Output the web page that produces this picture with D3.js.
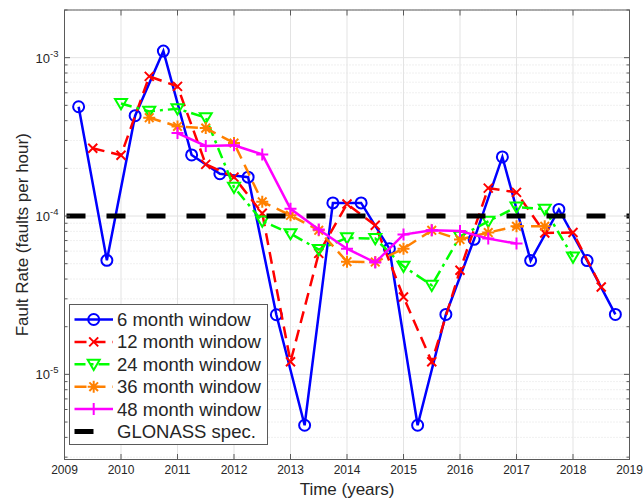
<!DOCTYPE html>
<html>
<head>
<meta charset="utf-8">
<script src="https://cdnjs.cloudflare.com/ajax/libs/d3/7.8.5/d3.min.js"></script>
<style>
  body { margin: 0; background: #fff; }
  text { font-family: "Liberation Sans", Arial, Helvetica, sans-serif; fill: #262626; }
</style>
</head>
<body>
<div id="chart"></div>
<script>
// sample times (years) and fault rates (faults per hour) for each window
const t6 = [2009.25, 2009.75, 2010.25, 2010.75, 2011.25, 2011.75, 2012.25, 2012.75, 2013.25, 2013.75,
            2014.25, 2014.75, 2015.25, 2015.75, 2016.25, 2016.75, 2017.25, 2017.75, 2018.25, 2018.75];
const rate6 = [4.9e-4, 5.25e-5, 4.3e-4, 1.1e-3, 2.43e-4, 1.85e-4, 1.76e-4, 2.38e-5, 4.77e-6, 1.21e-4,
               1.21e-4, 6.22e-5, 4.77e-6, 2.39e-5, 7.13e-5, 2.36e-4, 5.23e-5, 1.10e-4, 5.23e-5, 2.39e-5];

const t12 = [2009.5, 2010, 2010.5, 2011, 2011.5, 2012, 2012.5, 2013, 2013.5, 2014,
             2014.5, 2015, 2015.5, 2016, 2016.5, 2017, 2017.5, 2018, 2018.5];
const rate12 = [2.68e-4, 2.42e-4, 7.62e-4, 6.59e-4, 2.12e-4, 1.76e-4, 1.04e-4, 1.20e-5, 5.81e-5, 1.19e-4,
                8.74e-5, 3.08e-5, 1.20e-5, 4.54e-5, 1.50e-4, 1.41e-4, 7.81e-5, 7.86e-5, 3.56e-5];

const t24 = [2010, 2010.5, 2011, 2011.5, 2012, 2012.5, 2013, 2013.5, 2014,
             2014.5, 2015, 2015.5, 2016, 2016.5, 2017, 2017.5, 2018];
const rate24 = [5.13e-4, 4.58e-4, 4.76e-4, 4.18e-4, 1.52e-4, 9.30e-5, 7.74e-5, 6.14e-5, 7.28e-5,
                7.20e-5, 4.81e-5, 3.65e-5, 7.44e-5, 9.26e-5, 1.14e-4, 1.105e-4, 5.51e-5];

const t36 = [2010.5, 2011, 2011.5, 2012, 2012.5, 2013, 2013.5, 2014,
             2014.5, 2015, 2015.5, 2016, 2016.5, 2017, 2017.5];
const rate36 = [4.18e-4, 3.68e-4, 3.59e-4, 2.89e-4, 1.23e-4, 1.01e-4, 8.12e-5, 5.15e-5,
                5.12e-5, 6.22e-5, 8.12e-5, 7.10e-5, 7.86e-5, 8.61e-5, 8.61e-5];

const t48 = [2011, 2011.5, 2012, 2012.5, 2013, 2013.5, 2014, 2014.5, 2015, 2015.5, 2016, 2016.5, 2017];
const rate48 = [3.34e-4, 2.77e-4, 2.80e-4, 2.45e-4, 1.11e-4, 8.21e-5, 6.22e-5, 5.08e-5,
                7.63e-5, 8.12e-5, 8.04e-5, 7.20e-5, 6.70e-5];

const glonassSpec = 1e-4;

const seriesNames = ["6 month window", "12 month window", "24 month window", "36 month window", "48 month window"];
const specName = "GLONASS spec.";
const yearTicks = [2009, 2010, 2011, 2012, 2013, 2014, 2015, 2016, 2017, 2018, 2019];
const decadeTicks = [1e-5, 1e-4, 1e-3];
const decadeLabels = ["-5", "-4", "-3"];

const w = 644;
const h = 500;
const padL = 64.5, padR = 629.5, padT = 10, padB = 459.5;

let svg = d3.select("#chart").append("svg")
            .attr("width", w)
            .attr("height", h);

let xScale = d3.scaleLinear().domain([2009, 2019]).range([padL, padR]);
let yScale = d3.scaleLog().domain([2.9e-6, 2e-3]).range([padB, padT]);

// minor ticks 2..9 for every decade inside the domain
let minorTicks = yScale.ticks().filter(v => {
    let m = v / Math.pow(10, Math.floor(Math.log10(v) + 1e-9));
    return Math.round(m) !== 1;
});

// grid
let grid = svg.append("g");
grid.selectAll(".ymin").data(minorTicks).enter().append("line")
    .attr("x1", padL).attr("x2", padR)
    .attr("y1", d => yScale(d)).attr("y2", d => yScale(d))
    .attr("stroke", "#d9d9d9").attr("stroke-width", 0.8).attr("stroke-dasharray", "1,2");
grid.selectAll(".ymaj").data(decadeTicks).enter().append("line")
    .attr("x1", padL).attr("x2", padR)
    .attr("y1", d => yScale(d)).attr("y2", d => yScale(d))
    .attr("stroke", "#e3e3e3").attr("stroke-width", 1);
grid.selectAll(".xmaj").data(yearTicks).enter().append("line")
    .attr("x1", d => xScale(d)).attr("x2", d => xScale(d))
    .attr("y1", padT).attr("y2", padB)
    .attr("stroke", "#e3e3e3").attr("stroke-width", 1);

// clip
svg.append("clipPath").attr("id", "plot-area")
   .append("rect")
   .attr("x", padL).attr("y", padT)
   .attr("width", padR - padL).attr("height", padB - padT);

const markerPath = (type, s) => {
    if (type === "x") return `M${-s},${-s}L${s},${s}M${-s},${s}L${s},${-s}`;
    if (type === "+") return `M${-s},0L${s},0M0,${-s}L0,${s}`;
    if (type === "*") {
        let k = s * 0.72;
        return `M${-s},0L${s},0M0,${-s}L0,${s}M${-k},${-k}L${k},${k}M${-k},${k}L${k},${-k}`;
    }
    if (type === "v") return `M${-s},${-s * 0.75}L${s},${-s * 0.75}L0,${s * 0.95}Z`;
    return "";
};

const series = [
    {name: seriesNames[0], t: t6, v: rate6, color: "#0000ff", dash: null, marker: "o"},
    {name: seriesNames[1], t: t12, v: rate12, color: "#ff0000", dash: "12,7", marker: "x"},
    {name: seriesNames[2], t: t24, v: rate24, color: "#00ff00", dash: "11,5,3,5", marker: "v"},
    {name: seriesNames[3], t: t36, v: rate36, color: "#ff8000", dash: "12,7", marker: "*"},
    {name: seriesNames[4], t: t48, v: rate48, color: "#ff00ff", dash: null, marker: "+"}
];

const drawMarker = (g, s, x, y) => {
    if (s.marker === "o") {
        g.append("circle").attr("cx", x).attr("cy", y).attr("r", 5.5)
         .attr("fill", "none").attr("stroke", s.color).attr("stroke-width", 2);
    } else {
        let size = s.marker === "x" ? 4.5 : 6;
        g.append("path").attr("d", markerPath(s.marker, size))
         .attr("transform", "translate(" + x + "," + y + ")")
         .attr("fill", "none").attr("stroke", s.color).attr("stroke-width", 2);
    }
};

let plot = svg.append("g").attr("clip-path", "url(#plot-area)");
let line = d3.line().x(d => xScale(d[0])).y(d => yScale(d[1]));

series.forEach(s => {
    let pts = s.t.map((t, i) => [t, s.v[i]]);
    let g = plot.append("g");
    g.append("path").datum(pts)
     .attr("d", line)
     .attr("fill", "none")
     .attr("stroke", s.color)
     .attr("stroke-width", 2.5)
     .attr("stroke-dasharray", s.dash);
    pts.forEach(p => drawMarker(g, s, xScale(p[0]), yScale(p[1])));
});

// GLONASS spec line
plot.append("line")
    .attr("x1", xScale(2009)).attr("x2", xScale(2019))
    .attr("y1", yScale(glonassSpec)).attr("y2", yScale(glonassSpec))
    .attr("stroke", "#000").attr("stroke-width", 5)
    .attr("stroke-dasharray", "19,21")
    .attr("stroke-dashoffset", -2);

// axes box and ticks
let axes = svg.append("g").attr("stroke", "#5a5a5a").attr("stroke-width", 1);
axes.append("rect").attr("x", padL).attr("y", padT)
    .attr("width", padR - padL).attr("height", padB - padT).attr("fill", "none");
yearTicks.forEach(t => {
    axes.append("line").attr("x1", xScale(t)).attr("x2", xScale(t)).attr("y1", padB).attr("y2", padB - 5.5);
    axes.append("line").attr("x1", xScale(t)).attr("x2", xScale(t)).attr("y1", padT).attr("y2", padT + 5.5);
});
decadeTicks.forEach(v => {
    axes.append("line").attr("x1", padL).attr("x2", padL + 5.5).attr("y1", yScale(v)).attr("y2", yScale(v));
    axes.append("line").attr("x1", padR).attr("x2", padR - 5.5).attr("y1", yScale(v)).attr("y2", yScale(v));
});
minorTicks.forEach(v => {
    axes.append("line").attr("x1", padL).attr("x2", padL + 3).attr("y1", yScale(v)).attr("y2", yScale(v));
    axes.append("line").attr("x1", padR).attr("x2", padR - 3).attr("y1", yScale(v)).attr("y2", yScale(v));
});

// tick labels
svg.selectAll(".xlab").data(yearTicks).enter().append("text")
   .attr("x", d => xScale(d)).attr("y", padB + 14)
   .attr("text-anchor", "middle").attr("font-size", "12px")
   .text(d => d);

decadeTicks.forEach((v, i) => {
    let t = svg.append("text")
               .attr("x", padL - 6).attr("y", yScale(v) + 5)
               .attr("text-anchor", "end").attr("font-size", "13px");
    t.append("tspan").text("10");
    t.append("tspan").attr("dy", -6).attr("font-size", "9.5px").text(decadeLabels[i]);
});

// axis titles
svg.append("text")
   .attr("text-anchor", "middle")
   .attr("transform", "translate(" + ((padL + padR) / 2) + "," + (h - 5) + ")")
   .attr("font-size", "17px")
   .text("Time (years)");

svg.append("text")
   .attr("text-anchor", "middle")
   .attr("transform", "translate(28," + ((padT + padB) / 2) + ")rotate(-90)")
   .attr("font-size", "17px")
   .text("Fault Rate (faults per hour)");

// legend
let legend = svg.append("g");
legend.append("rect")
      .attr("x", 69.5).attr("y", 304.5).attr("width", 198).attr("height", 140)
      .attr("fill", "#fff").attr("stroke", "#5a5a5a").attr("stroke-width", 1);

const rowY = i => 319.5 + i * 22.4;
series.forEach((s, i) => {
    let g = legend.append("g");
    g.append("line")
     .attr("x1", 74.5).attr("x2", 113).attr("y1", rowY(i)).attr("y2", rowY(i))
     .attr("stroke", s.color).attr("stroke-width", 2.5)
     .attr("stroke-dasharray", s.dash);
    drawMarker(g, s, 93.7, rowY(i));
    g.append("text").attr("x", 117).attr("y", rowY(i) + 6.5)
     .attr("font-size", "18.5px").text(s.name);
});
legend.append("line")
      .attr("x1", 74.5).attr("x2", 93.5).attr("y1", rowY(5)).attr("y2", rowY(5))
      .attr("stroke", "#000").attr("stroke-width", 5);
legend.append("text").attr("x", 117).attr("y", rowY(5) + 6.5)
      .attr("font-size", "18.5px").text(specName);
</script>
</body>
</html>
